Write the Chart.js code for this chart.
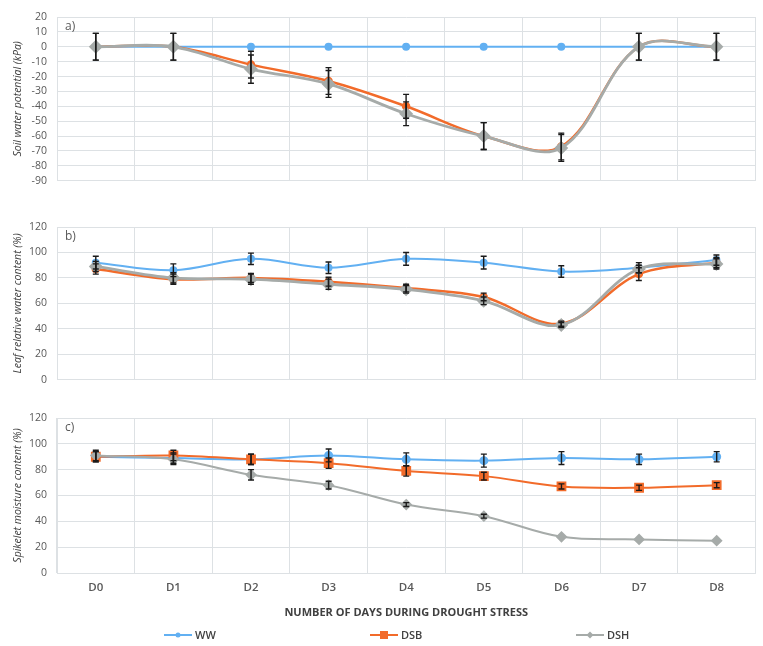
<!DOCTYPE html>
<html>
<head>
<meta charset="utf-8">
<script src="https://cdn.jsdelivr.net/npm/chart.js@4.4.1/dist/chart.umd.min.js"></script>
<style>
  html, body { margin: 0; padding: 0; background: #fff; }
  #wrap { position: relative; width: 763px; height: 646px; overflow: hidden; }
  .pane { position: absolute; left: 0; width: 763px; }
  #legend { position: absolute; top: 627px; left: 164px; display: flex; font: 600 11px "Open Sans", sans-serif; color: #404040; }
  #legend .item { display: flex; align-items: center; width: 206px; }
  #legend canvas { margin-right: 3px; }
</style>
</head>
<body>
<div id="wrap">
  <div class="pane" style="top:0;height:197px"><canvas id="chartA"></canvas></div>
  <div class="pane" style="top:200px;height:196px"><canvas id="chartB"></canvas></div>
  <div class="pane" style="top:390px;height:236px"><canvas id="chartC"></canvas></div>
  <div id="legend"></div>
</div>
<script>
// Categories
const days = ['D0', 'D1', 'D2', 'D3', 'D4', 'D5', 'D6', 'D7', 'D8'];
const seriesNames = ['WW', 'DSB', 'DSH'];

// a) Soil water potential (kPa)
const swpWW  = [0, 0, 0, 0, 0, 0, 0, 0, 0];
const swpDSB = [0, 0, -12, -23, -40, -60, -67, 0, 0];
const swpDSH = [0, 0, -15, -25, -45, -60, -68, 0, 0];
const swpErrWW  = [0, 0, 0, 0, 0, 0, 0, 0, 0];
const swpErrDSB = [9, 9, 9, 9, 8, 9, 9, 9, 9];
const swpErrDSH = [9, 9, 9.5, 9, 8, 9, 9, 9, 9];

// b) Leaf relative water content (%)
const lrwcWW  = [92, 86, 95, 88, 95, 92, 85, 88, 94];
const lrwcDSB = [87, 79, 80, 77, 72, 65, 44, 83, 92];
const lrwcDSH = [89, 80, 79, 75, 71, 62, 43, 87, 91];
const lrwcErrWW  = [5, 5, 4.5, 4.5, 5, 5, 4.5, 4, 4];
const lrwcErrDSB = [4, 4, 3.5, 3.5, 3, 3, 2, 5, 4];
const lrwcErrDSH = [4, 4, 4, 4, 3, 3, 2, 3, 4];

// c) Spikelet moisture content (%)
const smcWW  = [90, 89, 88, 91, 88, 87, 89, 88, 90];
const smcDSB = [90, 91, 88, 85, 79, 75, 67, 66, 68];
const smcDSH = [91, 88, 76, 68, 53, 44, 28, 26, 25];
const smcErrWW  = [4, 4, 4, 5, 5, 5, 5, 4, 4];
const smcErrDSB = [4, 4, 4, 4, 4, 3, 2, 2, 2];
const smcErrDSH = [4, 4, 4, 3, 1.5, 1.5, 0, 0, 0];

const COLORS = { WW: '#62b0f2', DSB: '#f26b2a', DSH: '#a6aba9' };
const GRID = '#dde1e4';
const TEXT = '#595959';
const FONT = '"Open Sans", sans-serif';

// black error bars with caps, drawn through the y scale
const errorBars = {
  id: 'errorBars',
  afterDatasetsDraw(chart) {
    const ctx = chart.ctx;
    const y = chart.scales.y;
    ctx.save();
    ctx.strokeStyle = '#1a1a1a';
    ctx.lineWidth = 1.4;
    chart.data.datasets.forEach((ds, i) => {
      if (!ds.errors) return;
      const meta = chart.getDatasetMeta(i);
      meta.data.forEach((pt, j) => {
        const e = ds.errors[j];
        if (!e) return;
        const top = y.getPixelForValue(ds.data[j] + e);
        const bot = y.getPixelForValue(ds.data[j] - e);
        ctx.beginPath();
        ctx.moveTo(pt.x, top); ctx.lineTo(pt.x, bot);
        ctx.moveTo(pt.x - 3, top); ctx.lineTo(pt.x + 3, top);
        ctx.moveTo(pt.x - 3, bot); ctx.lineTo(pt.x + 3, bot);
        ctx.stroke();
      });
    });
    ctx.restore();
  }
};

const panelLabel = {
  id: 'panelLabel',
  afterDraw(chart, args, opts) {
    const ctx = chart.ctx;
    ctx.save();
    ctx.font = '12px ' + FONT;
    ctx.fillStyle = TEXT;
    ctx.textBaseline = 'middle';
    ctx.fillText(opts.text, chart.chartArea.left + 8, chart.chartArea.top + 10);
    ctx.restore();
  }
};

function makeDataset(name, data, errors, style) {
  return {
    label: name,
    data: data,
    errors: errors,
    borderColor: COLORS[name],
    backgroundColor: COLORS[name],
    pointBackgroundColor: COLORS[name],
    pointBorderColor: COLORS[name],
    borderWidth: style.width,
    pointStyle: style.point,
    pointRadius: style.radius,
    tension: 0.35,
    order: style.order
  };
}

function makeChart(id, datasets, opts) {
  return new Chart(id, {
    type: 'line',
    data: { labels: days, datasets: datasets },
    options: {
      responsive: true,
      maintainAspectRatio: false,
      animation: false,
      layout: { padding: opts.padding },
      plugins: {
        legend: { display: false },
        tooltip: { enabled: false },
        panelLabel: { text: opts.label }
      },
      scales: {
        x: {
          offset: true,
          grid: { color: GRID, offset: true, drawTicks: false },
          border: { color: GRID },
          ticks: {
            display: opts.showX,
            color: TEXT,
            padding: 8,
            font: { family: FONT, size: 11.5, weight: '600' }
          },
          title: {
            display: opts.showX,
            text: 'NUMBER OF DAYS DURING DROUGHT STRESS',
            color: '#404040',
            padding: { top: 3, bottom: 0 },
            font: { family: FONT, size: 11, weight: '700' }
          }
        },
        y: {
          min: opts.min,
          max: opts.max,
          grid: { color: GRID, drawTicks: false },
          border: { color: GRID },
          afterFit: s => { s.width = 57; },
          ticks: {
            stepSize: opts.step,
            autoSkip: false,
            color: TEXT,
            padding: 10,
            font: { family: FONT, size: 10.5 }
          },
          title: {
            display: true,
            text: opts.yTitle,
            color: '#404040',
            padding: { top: 12, bottom: 0 },
            font: { family: FONT, size: 10.5, style: 'italic' }
          }
        }
      }
    },
    plugins: [errorBars, panelLabel]
  });
}

const lineStyles = {
  WW:  { width: 2, point: 'circle', radius: 3, order: 2 },
  DSB: { width: 2.5, point: 'circle', radius: 3, order: 1 },
  DSH: { width: 2.8, point: 'rectRot', radius: 5, order: 0 }
};

makeChart('chartA', [
  makeDataset('WW', swpWW, swpErrWW, lineStyles.WW),
  makeDataset('DSB', swpDSB, swpErrDSB, lineStyles.DSB),
  makeDataset('DSH', swpDSH, swpErrDSH, lineStyles.DSH)
], { min: -90, max: 20, step: 10, yTitle: 'Soil water potential (kPa)', label: 'a)',
     showX: false, padding: { top: 17, bottom: 4, left: 0, right: 5 } });

makeChart('chartB', [
  makeDataset('WW', lrwcWW, lrwcErrWW, lineStyles.WW),
  makeDataset('DSB', lrwcDSB, lrwcErrDSB, lineStyles.DSB),
  makeDataset('DSH', lrwcDSH, lrwcErrDSH, lineStyles.DSH)
], { min: 0, max: 120, step: 20, yTitle: 'Leaf relative water content (%)', label: 'b)',
     showX: false, padding: { top: 27, bottom: 6, left: 0, right: 5 } });

makeChart('chartC', [
  makeDataset('WW', smcWW, smcErrWW, { width: 2, point: 'circle', radius: 3.5, order: 2 }),
  makeDataset('DSB', smcDSB, smcErrDSB, { width: 2, point: 'rect', radius: 5.5, order: 1 }),
  makeDataset('DSH', smcDSH, smcErrDSH, { width: 2, point: 'rectRot', radius: 4.5, order: 0 })
], { min: 0, max: 120, step: 20, yTitle: 'Spikelet moisture content (%)', label: 'c)',
     showX: true, padding: { top: 28, bottom: 7, left: 0, right: 5 } });

// Legend: line + marker swatch, then the series name
const legendMarks = { WW: 'circle', DSB: 'square', DSH: 'diamond' };
const legend = document.getElementById('legend');
seriesNames.forEach(name => {
  const item = document.createElement('div');
  item.className = 'item';
  const c = document.createElement('canvas');
  c.width = 28; c.height = 12;
  const g = c.getContext('2d');
  g.strokeStyle = COLORS[name];
  g.fillStyle = COLORS[name];
  g.lineWidth = 2;
  g.beginPath(); g.moveTo(0, 6); g.lineTo(28, 6); g.stroke();
  g.beginPath();
  if (legendMarks[name] === 'circle') g.arc(14, 6, 2.5, 0, Math.PI * 2);
  else if (legendMarks[name] === 'square') g.rect(10, 2, 8, 8);
  else { g.moveTo(14, 2.5); g.lineTo(17.5, 6); g.lineTo(14, 9.5); g.lineTo(10.5, 6); g.closePath(); }
  g.fill();
  const t = document.createElement('span');
  t.textContent = name;
  item.appendChild(c);
  item.appendChild(t);
  legend.appendChild(item);
});
</script>
</body>
</html>
